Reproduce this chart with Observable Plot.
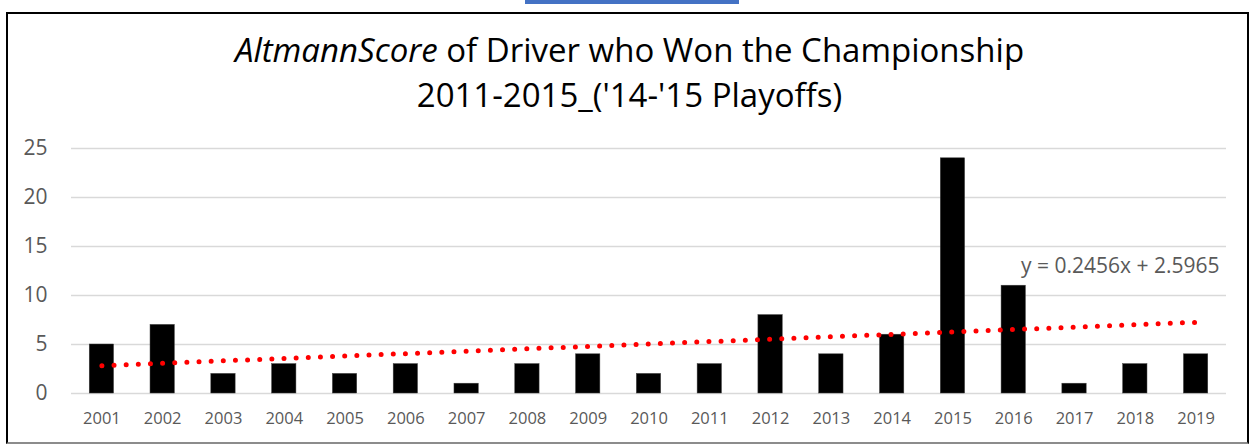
<!DOCTYPE html>
<html>
<head>
<meta charset="utf-8">
<script src="https://cdn.jsdelivr.net/npm/d3@7"></script>
<script src="https://cdn.jsdelivr.net/npm/@observablehq/plot@0.6"></script>
<style>
  html, body { margin: 0; padding: 0; background: #fff; width: 1255px; height: 445px; overflow: hidden; }
  #blue { position: absolute; left: 525px; top: 0; width: 214px; height: 4px; background: #4472c4; }
  #frame { position: absolute; left: 6px; top: 12px; width: 1239px; height: 428px;
           border: 2px solid #000; border-bottom-color: #8c8c8c; box-sizing: content-box; }
  #title { position: absolute; left: 0; top: 27px; width: 1259px; text-align: center;
           font-family: "Open Sans", sans-serif; font-size: 33px; line-height: 45px; color: #000; }
  #chart { position: absolute; left: 0; top: 130px; }
</style>
</head>
<body>
<div id="blue"></div>
<div id="frame"></div>
<div id="title"><i>AltmannScore</i> of Driver who Won the Championship<br>2011-2015_('14-'15 Playoffs)</div>
<div id="chart"></div>
<script>
const years = ["2001","2002","2003","2004","2005","2006","2007","2008","2009","2010",
               "2011","2012","2013","2014","2015","2016","2017","2018","2019"];
const scores = [5, 7, 2, 3, 2, 3, 1, 3, 4, 2, 3, 8, 4, 6, 24, 11, 1, 3, 4];
const trendSlope = 0.2456;
const trendIntercept = 2.5965;
const trendLabel = "y = 0.2456x + 2.5965";
const yTicks = [0, 5, 10, 15, 20, 25];

const data = years.map((year, i) => ({year, score: scores[i]}));
const trend = years.map((year, i) => ({year, value: trendSlope * (i + 1) + trendIntercept}));

const chart = Plot.plot({
  width: 1255,
  height: 300,
  marginTop: 18,
  marginBottom: 37,
  marginLeft: 71,
  marginRight: 29,
  style: {fontFamily: "Open Sans, sans-serif", background: "transparent"},
  x: {domain: years, paddingInner: 0.6, paddingOuter: 0.3, round: false, label: null},
  y: {domain: [0, 25], ticks: yTicks, label: null},
  marks: [
    Plot.gridY(yTicks, {stroke: "#d9d9d9", strokeOpacity: 1, strokeWidth: 1.5}),
    Plot.barY(data, {x: "year", y: "score", fill: "#000", stroke: "#404040", strokeWidth: 0.5}),
    Plot.line(trend, {x: "year", y: "value", stroke: "#ff0000", strokeWidth: 5,
                      strokeDasharray: "0 12.15", strokeLinecap: "round"}),
    Plot.axisY(yTicks, {tickSize: 0, tickPadding: 24, fontSize: 21, fill: "#595959", label: null}),
    Plot.axisX({tickSize: 0, tickPadding: 19, fontSize: 16.5, fill: "#595959", label: null}),
    Plot.text([trendLabel], {frameAnchor: "top-right", dx: -7, dy: 118, fontSize: 21,
                             fill: "#595959", textAnchor: "end", lineAnchor: "middle"})
  ]
});
document.getElementById("chart").appendChild(chart);
</script>
</body>
</html>
